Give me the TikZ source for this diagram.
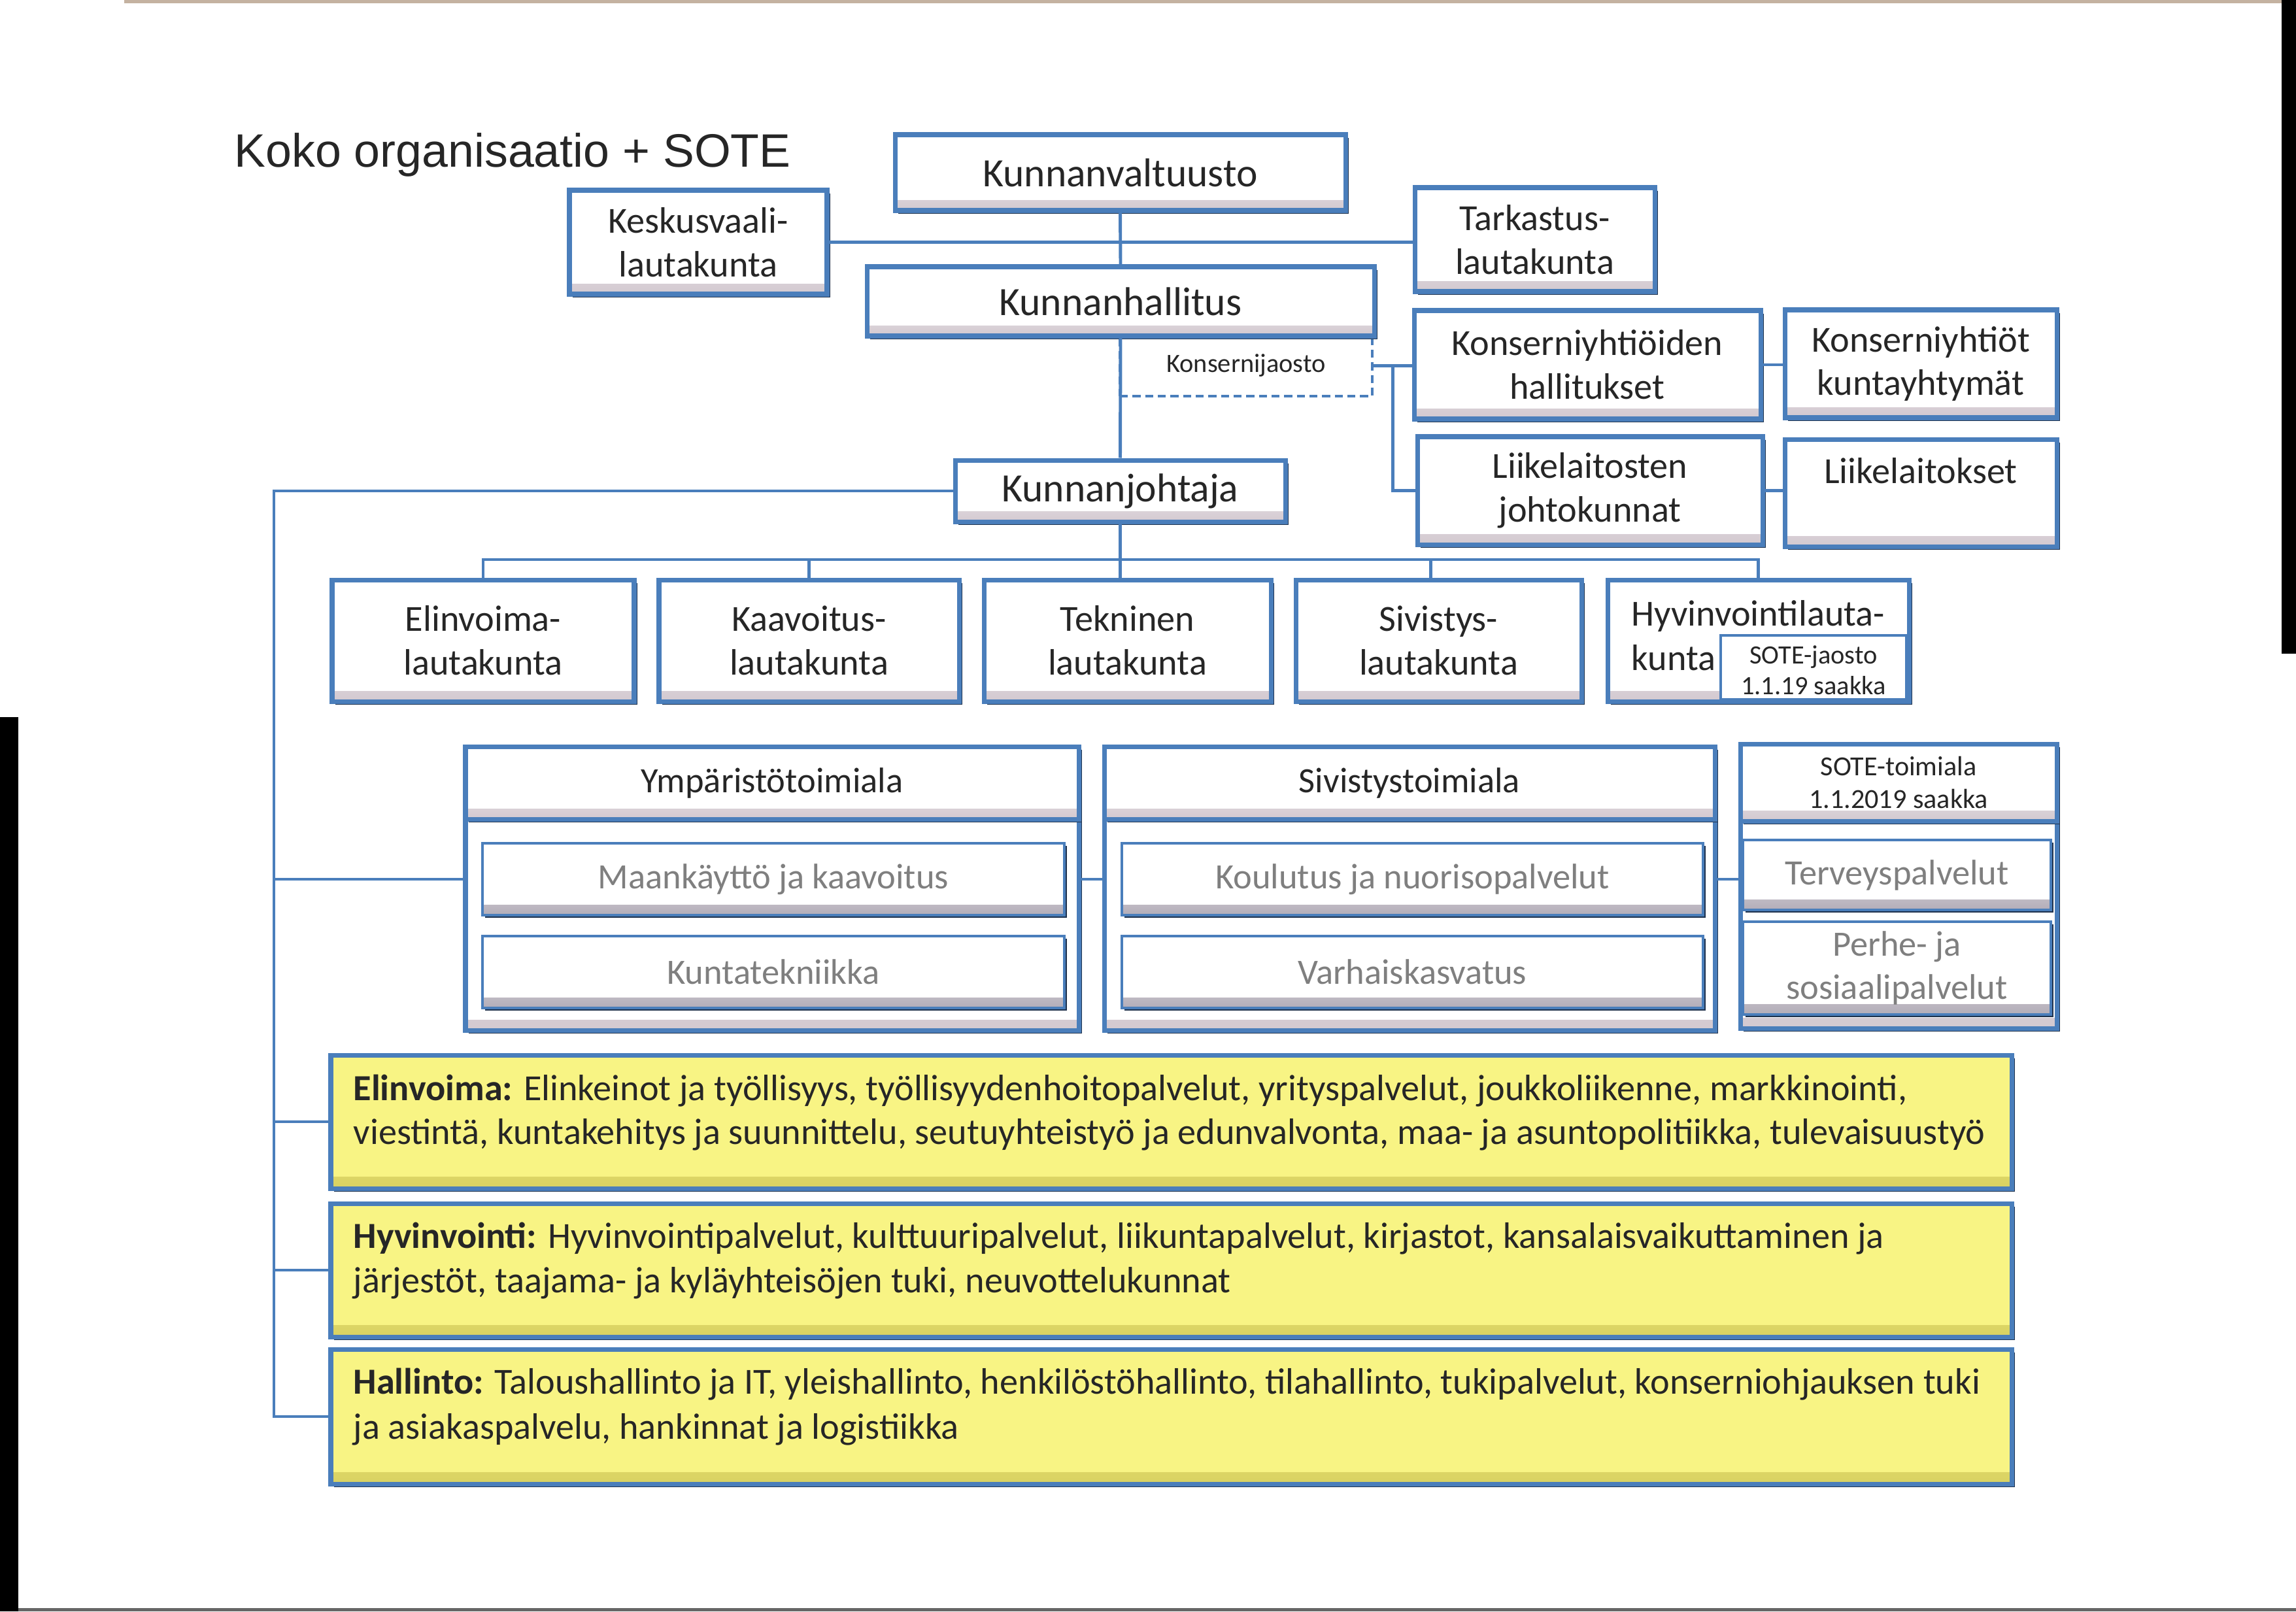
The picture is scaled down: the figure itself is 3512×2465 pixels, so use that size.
\documentclass[tikz,border=0pt]{standalone}
\usepackage{fontspec}
\setmainfont{Carlito}
\newfontfamily\titlefont{Liberation Sans}
\usetikzlibrary{shadows,calc}
\definecolor{bl}{HTML}{4A7EBB}
\definecolor{navy}{HTML}{1F324D}
\definecolor{bev}{HTML}{D3C9D0}
\definecolor{bevg}{HTML}{B3ADB8}
\definecolor{txt}{HTML}{262626}
\definecolor{gtxt}{HTML}{7F7F7F}
\definecolor{yel}{HTML}{F8F484}
\definecolor{yelb}{HTML}{D9D262}
\newcommand\FBig{\fontsize{17.5pt}{21pt}\selectfont}
\newcommand\FMid{\fontsize{16pt}{19pt}\selectfont}
\newcommand\FIn{\fontsize{15.5pt}{17.6pt}\selectfont}
\newcommand\FInW{\fontsize{15.5pt}{19pt}\selectfont}
\newcommand\FHd{\fontsize{12pt}{14.5pt}\selectfont}
\newcommand\FSm{\fontsize{11.5pt}{13.4pt}\selectfont}
\newcommand\FYl{\fontsize{16pt}{19pt}\selectfont}
% \BX[style]{name}{x1}{y1}{x2}{y2}{text}
\newcommand\BX[7][]{\node[#1, minimum width={(#5-#3)*0.1mm}, minimum height={(#6-#4)*0.1mm}] (#2) at ({(#3+#5)/2},{(#4+#6)/2}) {#7};}
\tikzset{
  conn/.style={draw=bl, line width=1.4pt},
  shad/.style={drop shadow={shadow xshift=1.4pt, shadow yshift=-1.4pt, fill=navy, opacity=1}},
  bevel/.style={path picture={\shade[top color=white, bottom color=#1] ([yshift=4.5pt]path picture bounding box.south west) rectangle (path picture bounding box.south east);}},
  orgbox/.style={draw=bl, line width=2pt, fill=white, inner sep=0pt, text=txt, align=center, shad, bevel=bev},
  inbox/.style={draw=bl, line width=1.4pt, fill=white, inner sep=0pt, text=gtxt, align=center, font=\FIn,
    drop shadow={shadow xshift=1pt, shadow yshift=-1pt, fill=navy, opacity=1}, bevel=bevg},
  ybox/.style={draw=bl, line width=2pt, fill=yel, inner sep=0pt, shad,
    path picture={\shade[top color=yel, bottom color=yelb] ([yshift=5pt]path picture bounding box.south west) rectangle (path picture bounding box.south east);}},
  ytext/.style={anchor=base west, inner sep=0pt, font=\FYl, text=txt},
  plain/.style={inner sep=0pt, text=txt},
  dashbox/.style={draw=bl, dash pattern=on 3.5pt off 2pt, line width=1pt, inner sep=0pt, text=txt, font=\FSm},
  jaobox/.style={draw=bl, line width=1pt, fill=white, inner sep=0pt},
}
\begin{document}
\begin{tikzpicture}[x=0.1mm, y=-0.1mm]
\useasboundingbox (0,0) rectangle (3512,2465);
\fill[white] (0,0) rectangle (3512,2465);
% scan edges
\fill[black] (0,1097) rectangle (28,2465);
\fill[black] (3490,0) rectangle (3512,1000);
\fill[black!60] (28,2460) rectangle (3512,2465);
\fill[brown!45!gray!60] (190,0) rectangle (3490,5);

\node[anchor=base west, inner sep=0pt, text=txt, font=\titlefont\fontsize{20.4pt}{24pt}\selectfont] (title) at (358,255) {Koko organisaatio + SOTE};

% top level
\BX[dashbox]{kjbox}{1713}{513}{2099}{606}{Konsernijaosto}
\BX[orgbox, font=\FBig]{kv}{1369}{206}{2058}{322}{Kunnanvaltuusto}
\BX[orgbox, font=\FMid]{kes}{871}{291}{1265}{450}{Keskusvaali-\\lautakunta}
\BX[orgbox, font=\FMid]{tar}{2164}{287}{2531}{446}{Tarkastus-\\lautakunta}
\BX[orgbox, font=\FBig]{kh}{1326}{408}{2102}{514}{Kunnanhallitus}
\BX[orgbox, font=\FBig]{kj}{1461}{704}{1966}{798}{Kunnanjohtaja}
\BX[orgbox, font=\FMid]{kyh}{2163}{475}{2693}{641}{Konserniyhtiöiden\\hallitukset}
\BX[orgbox, font=\FMid]{kyt}{2730}{474}{3146}{639}{Konserniyhtiöt\\kuntayhtymät}
\BX[orgbox, font=\FMid]{lljk}{2168}{668}{2696}{833}{Liikelaitosten\\johtokunnat}
\BX[orgbox, font=\FMid]{llt}{2730}{672}{3146}{836}{Liikelaitokset\\\phantom{Liikelaitokset}}

% lautakunnat
\BX[orgbox, font=\FMid]{lt-el}{508}{887}{970}{1073}{Elinvoima-\\lautakunta}
\BX[orgbox, font=\FMid]{lt-kaa}{1008}{887}{1467}{1073}{Kaavoitus-\\lautakunta}
\BX[orgbox, font=\FMid]{lt-tek}{1505}{887}{1944}{1073}{Tekninen\\lautakunta}
\BX[orgbox, font=\FMid]{lt-siv}{1982}{887}{2419}{1073}{Sivistys-\\lautakunta}
\BX[orgbox, font=\FMid]{lt-hyv}{2459}{887}{2920}{1073}{}
\node[plain, anchor=base west, font=\FMid] (hyv-a) at (2495,957) {Hyvinvointilauta-};
\node[plain, anchor=base west, font=\FMid] (hyv-b) at (2495,1025) {kunta};
\BX[jaobox]{sjao}{2632}{972}{2916}{1070}{}
\node[plain, font=\FSm, anchor=base] (sjao-a) at (2774,1015) {SOTE-jaosto};
\node[plain, font=\FSm, anchor=base] (sjao-b) at (2774,1062) {1.1.19 saakka};

% toimialat
\BX[orgbox]{ta-ymp}{712}{1142}{1650}{1576}{}
\BX[orgbox, font=\FIn]{th-ymp}{712}{1142}{1650}{1253}{Ympäristötoimiala}
\BX[inbox]{ti-maa}{738}{1290}{1628}{1400}{Maankäyttö ja kaavoitus}
\BX[inbox]{ti-kunt}{738}{1432}{1628}{1542}{Kuntatekniikka}

\BX[orgbox]{ta-siv}{1689}{1142}{2623}{1576}{}
\BX[orgbox, font=\FIn]{th-siv}{1689}{1142}{2623}{1253}{Sivistystoimiala}
\BX[inbox]{ti-kou}{1716}{1290}{2605}{1400}{Koulutus ja nuorisopalvelut}
\BX[inbox]{ti-var}{1716}{1432}{2605}{1542}{Varhaiskasvatus}

\BX[orgbox]{ta-sote}{2662}{1138}{3146}{1573}{}
\BX[orgbox, font=\FHd]{th-sote}{2662}{1138}{3146}{1256}{SOTE-toimiala\\1.1.2019 saakka}
\BX[inbox]{ti-ter}{2666}{1285}{3137}{1392}{Terveyspalvelut}
\BX[inbox, font=\FInW]{ti-per}{2666}{1410}{3137}{1552}{Perhe- ja\\sosiaalipalvelut}

% yellow boxes
\BX[ybox]{y1}{506}{1614}{3077}{1818}{}
\BX[ybox]{y2}{506}{1841}{3077}{2045}{}
\BX[ybox]{y3}{506}{2064}{3077}{2270}{}
\node[ytext] (y1a) at (540,1683) {\textbf{Elinvoima:} Elinkeinot ja työllisyys, työllisyydenhoitopalvelut, yrityspalvelut, joukkoliikenne, markkinointi,};
\node[ytext] (y1b) at (540,1750) {viestintä, kuntakehitys ja suunnittelu, seutuyhteistyö ja edunvalvonta, maa- ja asuntopolitiikka, tulevaisuustyö};
\node[ytext] (y2a) at (540,1909) {\textbf{Hyvinvointi:} Hyvinvointipalvelut, kulttuuripalvelut, liikuntapalvelut, kirjastot, kansalaisvaikuttaminen ja};
\node[ytext] (y2b) at (540,1977) {järjestöt, taajama- ja kyläyhteisöjen tuki, neuvottelukunnat};
\node[ytext] (y3a) at (540,2132) {\textbf{Hallinto:} Taloushallinto ja IT, yleishallinto, henkilöstöhallinto, tilahallinto, tukipalvelut, konserniohjauksen tuki};
\node[ytext] (y3b) at (540,2201) {ja asiakaspalvelu, hankinnat ja logistiikka};

% connectors
\coordinate (bus) at (1713,856);
\coordinate (lbt) at (419,757);
\coordinate (kjs) at ($(kjbox.east)+(30,0)$);
\draw[conn] (kv.south) -- (kh.north);
\draw[conn] (kes.east) -- (kes.east -| tar.west);
\draw[conn] (kh.south) -- (kj.north);
\draw[conn] (kjbox.east) -- (kjbox.east -| kyh.west);
\draw[conn] (kjs) |- (lljk.west);
\draw[conn] (kyh.east) -- (kyh.east -| kyt.west);
\draw[conn] (lljk.east) -- (lljk.east -| llt.west);
\draw[conn] (kj.south) -- (kj.south |- lt-tek.north);
\draw[conn] (lt-el.north) -- (lt-el.north |- bus) -- (lt-hyv.north |- bus) -- (lt-hyv.north);
\draw[conn] (lt-kaa.north) -- (lt-kaa.north |- bus);
\draw[conn] ([xshift=-3.4pt]lt-siv.north) -- ([xshift=-3.4pt]lt-siv.north |- bus);
\draw[conn] (kj.west) -- (kj.west -| lbt) -- (lbt |- y3.west) -- (y3.west);
\draw[conn] (lbt |- ti-maa.west) -- (ta-ymp.west |- ti-maa.west);
\draw[conn] (lbt |- y1.west) -- (y1.west);
\draw[conn] (lbt |- y2.west) -- (y2.west);
\draw[conn] (ta-ymp.east |- ti-maa.east) -- (ta-siv.west |- ti-maa.east);
\draw[conn] (ta-siv.east |- ti-kou.east) -- (ta-sote.west |- ti-kou.east);
\end{tikzpicture}
\end{document}
